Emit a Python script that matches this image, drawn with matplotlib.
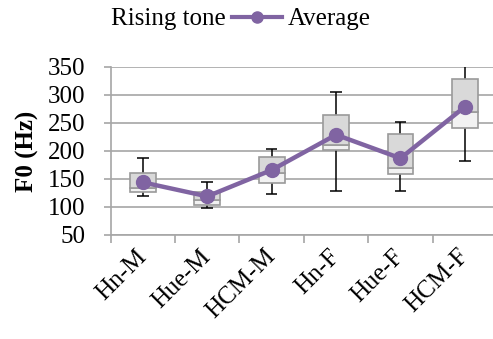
import numpy as np
import matplotlib.pyplot as plt
from matplotlib.lines import Line2D

plt.rcParams['font.family'] = ['Liberation Serif', 'DejaVu Serif']

groups = ["Hn-M", "Hue-M", "HCM-M", "Hn-F", "Hue-F", "HCM-F"]
f0_min = [120, 99, 124, 129, 129, 182]
f0_q1 = [126, 104, 142, 201, 159, 241]
f0_med = [134, 113, 160, 210, 170, 269]
f0_q3 = [160, 127, 190, 264, 230, 328]
f0_max = [188, 144, 204, 305, 251, 360]
f0_mean = [144, 119, 166, 229, 187, 279]

grid_col = "#a6a6a6"
purple = "#8064a2"

fig = plt.figure(figsize=(4.93, 3.39), dpi=100)
ax = fig.add_axes([0.2245, 0.3068, 0.7838, 0.4956])

x = np.arange(len(groups))
w = 0.4

# whiskers (behind boxes)
ax.vlines(x, f0_min, f0_max, color="black", lw=1.1, zorder=2)
ax.hlines(f0_min, x - 0.09, x + 0.09, color="black", lw=1.1, zorder=2)
ax.hlines(f0_max, x - 0.09, x + 0.09, color="black", lw=1.1, zorder=2)

lower = np.array(f0_med) - np.array(f0_q1)
upper = np.array(f0_q3) - np.array(f0_med)
ax.bar(x, lower, w, bottom=f0_q1, color="#f2f2f2", edgecolor="#9a9a9a", lw=1.2, zorder=3)
ax.bar(x, upper, w, bottom=f0_med, color="#d9d9d9", edgecolor="#9a9a9a", lw=1.2, zorder=3)

ax.plot(x, f0_mean, color=purple, lw=3.2, marker="o", ms=10, zorder=5, clip_on=False)

ax.set_xlim(-0.5, len(groups) - 0.5)
ax.set_ylim(50, 350)
ax.set_yticks(range(50, 351, 50))
ax.yaxis.grid(True, color=grid_col, lw=1.2)
ax.set_axisbelow(True)
ax.set_xticks(np.arange(len(groups) + 1) - 0.5)
ax.set_xticklabels([])
ax.set_xticks(x, minor=True)
ax.set_xticklabels(groups, minor=True, rotation=45, ha="right", va="center",
                   rotation_mode="anchor", fontsize=18)
ax.tick_params(axis="x", which="minor", length=0, pad=13)
ax.tick_params(axis="x", which="major", length=6, color=grid_col, width=1.2)
ax.tick_params(axis="y", length=5, color=grid_col, width=1.2, labelsize=18, pad=13)
for s in ["top", "right"]:
    ax.spines[s].set_visible(False)
for s in ["left", "bottom"]:
    ax.spines[s].set_color(grid_col)
    ax.spines[s].set_linewidth(1.2)

ax.set_ylabel("F0 (Hz)", fontsize=18, fontweight="bold")
ax.yaxis.set_label_coords(-0.185, 0.5)

# legend: series title text, then the line entry
fig.text(226 / 493, 1 - 19 / 339, "Rising tone", ha="right", va="center", fontsize=18)
fig.legend([Line2D([], [], color=purple, lw=3, marker="o", ms=8)], ["Average"],
           loc="center left", bbox_to_anchor=(232 / 493, 1 - 19 / 339),
           frameon=False, fontsize=18, handlelength=2.0, handletextpad=0.25,
           borderpad=0, borderaxespad=0)

fig.savefig("out.png", dpi=100)
